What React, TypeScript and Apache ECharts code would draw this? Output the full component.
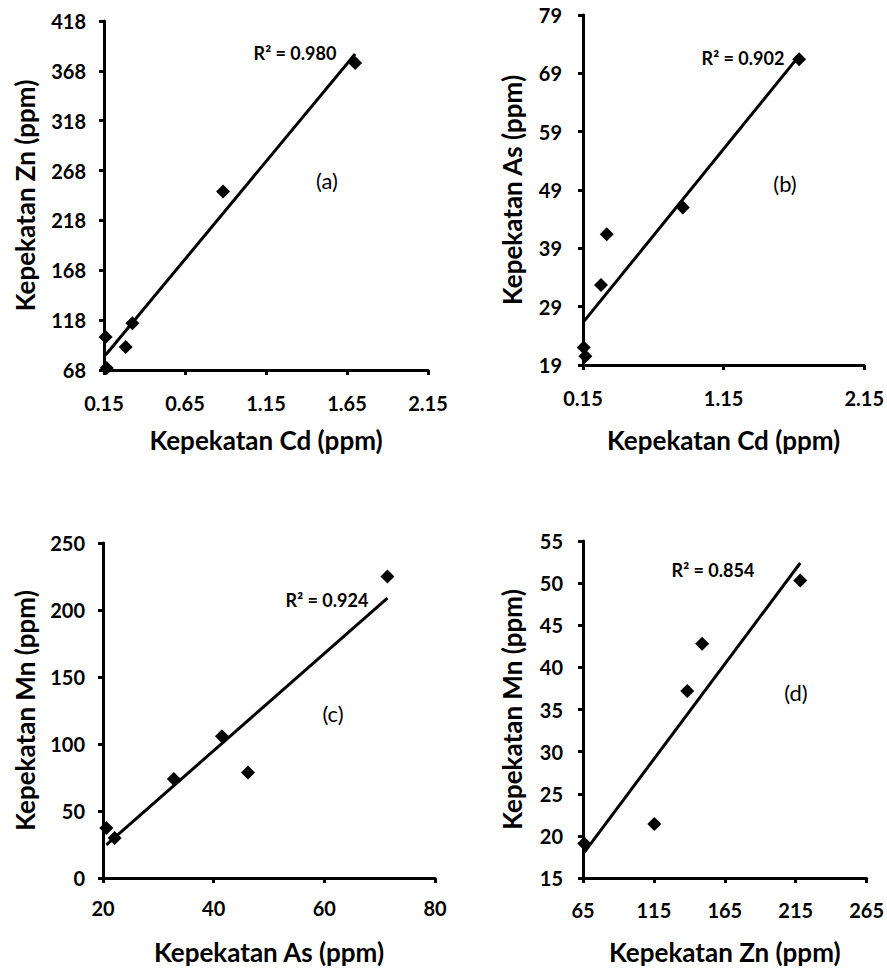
import React, { useEffect, useRef } from "react";
import * as echarts from "echarts";

// Panel (a): Cd vs Zn
const cdA = [0.16, 0.167, 0.284, 0.325, 0.885, 1.7];
const znA = [101, 70, 91, 115, 247, 376];
// Panel (b): Cd vs As
const cdB = [0.155, 0.167, 0.278, 0.319, 0.86, 1.687];
const asB = [22.0, 20.5, 32.7, 41.4, 46.0, 71.4];
// Panel (c): As vs Mn
const asC = [20.6, 22.1, 32.8, 41.5, 46.2, 71.4];
const mnC = [37.3, 29.9, 73.9, 105.7, 78.8, 225];
// Panel (d): Zn vs Mn
const znD = [65.9, 115.3, 138.5, 149, 218.2];
const mnD = [19.1, 21.4, 37.2, 42.8, 50.3];

const r2Labels = ["R\u00b2 = 0.980", "R\u00b2 = 0.902", "R\u00b2 = 0.924", "R\u00b2 = 0.854"];
const panelLabels = ["(a)", "(b)", "(c)", "(d)"];
const xTitles = ["Kepekatan Cd (ppm)", "Kepekatan Cd (ppm)", "Kepekatan As (ppm)", "Kepekatan Zn (ppm)"];
const yTitles = ["Kepekatan Zn (ppm)", "Kepekatan As (ppm)", "Kepekatan Mn (ppm)", "Kepekatan Mn (ppm)"];

const FONT = "Lato";

function trend(xs: number[], ys: number[]) {
  const n = xs.length;
  const mx = xs.reduce((a, b) => a + b, 0) / n;
  const my = ys.reduce((a, b) => a + b, 0) / n;
  let sxx = 0, sxy = 0;
  for (let i = 0; i < n; i++) {
    sxx += (xs[i] - mx) * (xs[i] - mx);
    sxy += (xs[i] - mx) * (ys[i] - my);
  }
  const b = sxy / sxx;
  const a = my - b * mx;
  const x0 = Math.min(...xs);
  const x1 = Math.max(...xs);
  return [[x0, a + b * x0], [x1, a + b * x1]];
}

export default function App() {
  const ref = useRef<HTMLDivElement>(null);
  useEffect(() => {
    if (!ref.current) return;
    const chart = echarts.init(ref.current, null, { renderer: "svg" });
    const panels = [
      { xs: cdA, ys: znA, grid: { left: 104, top: 21, width: 324, height: 349 }, x: [0.15, 2.15, 0.5, 2], y: [68, 418, 50, 0], xGap: 57, yGap: 66, xm: 23, ym: 18, r2: [295, 53], pl: [327, 180] },
      { xs: cdB, ys: asB, grid: { left: 583, top: 15, width: 285, height: 350 }, x: [0.15, 2.15, 1, 2], y: [19, 79, 10, 0], xGap: 62, yGap: 58, xm: 23, ym: 21, r2: [743, 58], pl: [785, 183] },
      { xs: asC, ys: mnC, grid: { left: 103, top: 543, width: 332, height: 335 }, x: [20, 80, 20, 0], y: [0, 250, 50, 0], xGap: 61, yGap: 65, xm: 20, ym: 18, r2: [327, 600], pl: [333, 713] },
      { xs: znD, ys: mnD, grid: { left: 583, top: 541, width: 287, height: 337 }, x: [65, 265, 50, 0], y: [15, 55, 5, 0], xGap: 61, yGap: 58, xm: 22, ym: 20, r2: [713, 570], pl: [796, 692] },
    ];
    const axisCommon = {
      type: "value",
      splitLine: { show: false },
      axisLine: { show: true, onZero: false, lineStyle: { color: "#000", width: 3 } },
      axisTick: { show: true, inside: false, length: 5, lineStyle: { color: "#000", width: 3 } },
      nameTextStyle: { fontFamily: FONT, fontWeight: "bold", fontSize: 26, color: "#000" },
    };
    const option: any = {
      animation: false,
      backgroundColor: "#fff",
      grid: panels.map((p) => ({ ...p.grid })),
      xAxis: panels.map((p, i) => ({
        ...axisCommon,
        gridIndex: i,
        min: p.x[0],
        max: p.x[1],
        interval: p.x[2],
        name: xTitles[i],
        nameLocation: "middle",
        nameGap: p.xGap,
        axisLabel: {
          margin: p.xm,
          fontFamily: FONT,
          fontWeight: "bold",
          fontSize: 20,
          color: "#000",
          showMinLabel: true,
          showMaxLabel: true,
          formatter: (v: number) => v.toFixed(p.x[3]),
        },
      })),
      yAxis: panels.map((p, i) => ({
        ...axisCommon,
        gridIndex: i,
        min: p.y[0],
        max: p.y[1],
        interval: p.y[2],
        name: yTitles[i],
        nameLocation: "middle",
        nameGap: p.yGap,
        axisLabel: {
          margin: p.ym,
          fontFamily: FONT,
          fontWeight: "bold",
          fontSize: 20,
          color: "#000",
          showMinLabel: true,
          showMaxLabel: true,
          formatter: (v: number) => v.toFixed(p.y[3]),
        },
      })),
      series: [
        ...panels.map((p, i) => ({
          type: "line",
          xAxisIndex: i,
          yAxisIndex: i,
          data: trend(p.xs, p.ys),
          showSymbol: false,
          symbol: "none",
          lineStyle: { color: "#000", width: 3 },
          z: 3,
          silent: true,
        })),
        ...panels.map((p, i) => ({
          type: "scatter",
          xAxisIndex: i,
          yAxisIndex: i,
          data: p.xs.map((x, k) => [x, p.ys[k]]),
          symbol: "diamond",
          symbolSize: 14,
          clip: false,
          itemStyle: { color: "#000", opacity: 1 },
          z: 4,
        })),
      ],
      graphic: [
        ...panels.map((p, i) => ({
          type: "text",
          x: p.r2[0],
          y: p.r2[1],
          style: {
            text: r2Labels[i],
            fontFamily: FONT,
            fontWeight: "bold",
            fontSize: 18,
            fill: "#000",
            align: "center",
            verticalAlign: "middle",
          },
        })),
        ...panels.map((p, i) => ({
          type: "text",
          x: p.pl[0],
          y: p.pl[1],
          style: {
            text: panelLabels[i],
            fontFamily: FONT,
            fontSize: 22,
            fill: "#000",
            align: "center",
            verticalAlign: "middle",
          },
        })),
      ],
    };
    chart.setOption(option);
    return () => chart.dispose();
  }, []);
  return (
    <div
      ref={ref}
      style={{ position: "absolute", left: 0, top: 0, width: 887, height: 970 }}
    />
  );
}
